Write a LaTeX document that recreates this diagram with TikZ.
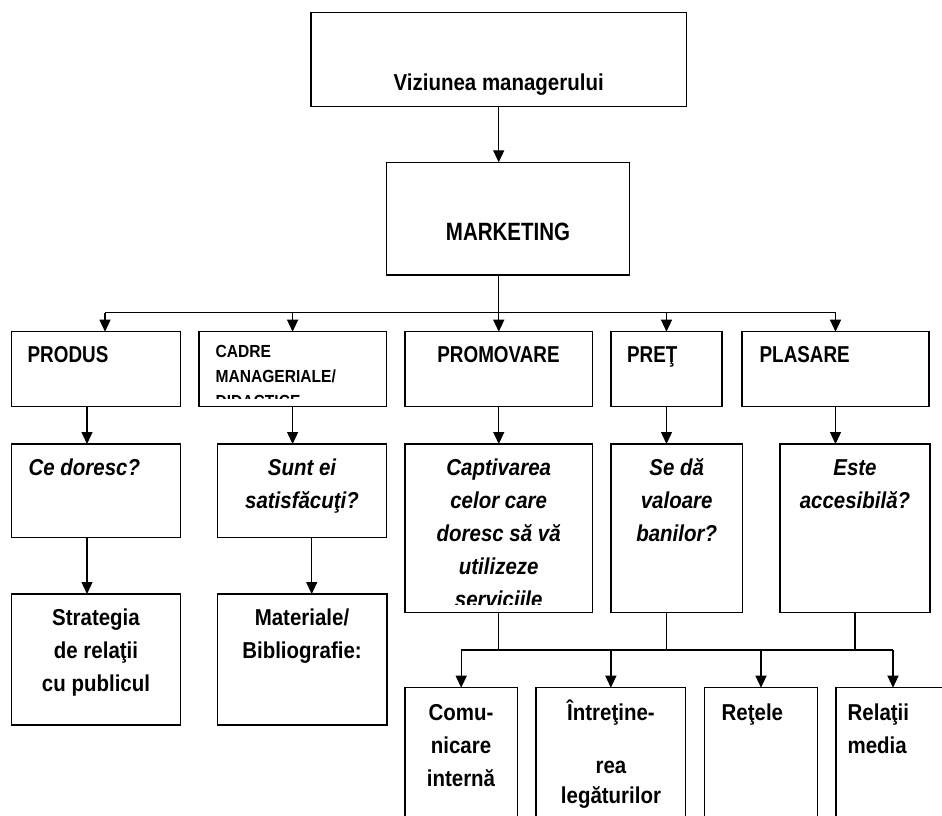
\documentclass[tikz,border=0pt]{standalone}
\usepackage{fontspec}
\setmainfont{Liberation Sans}[FakeStretch=0.89]
\newfontfamily\capsfont{Liberation Sans}[FakeStretch=0.82]
\usetikzlibrary{arrows.meta}

\begin{document}
\begin{tikzpicture}[x=1pt,y=-1pt,line width=1.3pt,>={Triangle[length=12pt,width=11pt]},
    box/.style={draw,inner sep=0pt,outer sep=0pt,anchor=north west},
    txt/.style={inner sep=0pt,align=center,font=\fontsize{23}{33}\selectfont\bfseries},
    cps/.style={txt,font=\capsfont\fontsize{23}{33}\selectfont\bfseries},
    qst/.style={txt,font=\fontsize{23}{33}\selectfont\bfseries\itshape}]
        \clip (0,0) rectangle (942,816);
        \node[box,minimum width=375.4pt,minimum height=93.6pt] (vis) at (311,12.7) {};
        \node[box,minimum width=243.3pt,minimum height=112.7pt] (mkt) at (386.4,162.3) {};
        \node[box,minimum width=168.6pt,minimum height=74.6pt] (pro) at (11.7,331.7) {};
        \node[box,minimum width=187.2pt,minimum height=74.6pt] (cad) at (199,331.7) {};
        \node[box,minimum width=187.5pt,minimum height=74.6pt] (prm) at (405,331.7) {};
        \node[box,minimum width=111pt,minimum height=74.6pt] (prt) at (611,331.7) {};
        \node[box,minimum width=187pt,minimum height=74.6pt] (pla) at (742,331.7) {};
        \node[box,minimum width=168.6pt,minimum height=93.7pt] (ced) at (11.7,444) {};
        \node[box,minimum width=169pt,minimum height=93.7pt] (sat) at (217.7,444) {};
        \node[box,minimum width=187.5pt,minimum height=168.5pt] (cap) at (405,444) {};
        \node[box,minimum width=131.5pt,minimum height=168.5pt] (val) at (611,444) {};
        \node[box,minimum width=150pt,minimum height=168.5pt] (acc) at (780,444) {};
        \node[box,minimum width=168.6pt,minimum height=131pt] (str) at (11.7,594) {};
        \node[box,minimum width=169.3pt,minimum height=131pt] (mat) at (217.7,594) {};
        \node[box,minimum width=112.4pt,minimum height=150pt] (com) at (405,687.7) {};
        \node[box,minimum width=149.7pt,minimum height=150pt] (int) at (536,687.7) {};
        \node[box,minimum width=113.4pt,minimum height=150pt] (ret) at (704.3,687.7) {};
        \node[box,minimum width=114pt,minimum height=150pt] (rel) at (836,687.7) {};

        % multi-line texts sit on the baseline of their last line
        \node[txt,anchor=base] (t-vis) at (498.7,90) {Viziunea managerului};
        \node[cps,anchor=base,font=\capsfont\fontsize{25}{33}\selectfont\bfseries] (t-mkt) at (508,240) {MARKETING};
        \node[cps,anchor=base west] (t-pro) at (27,362) {PRODUS};
        \begin{scope}
            \clip (cad.north west) rectangle ([yshift=8pt]cad.south east);
            \node[txt,anchor=base west,align=left,font=\fontsize{17.5}{25}\selectfont\bfseries] (t-cad) at (215,407) {CADRE\\MANAGERIALE/\\DIDACTICE};
        \end{scope}
        \node[cps,anchor=base] (t-prm) at (498.5,362) {PROMOVARE};
        \node[cps,anchor=base west] (t-prt) at (626.5,362) {PRE\char"0162};
        \node[cps,anchor=base west] (t-pla) at (759,362) {PLASARE};

        \node[qst,anchor=base west] (t-ced) at (28,475) {Ce doresc?};
        \node[qst,anchor=base] (t-sat) at (302,508) {Sunt ei\\satisf\u{a}cu\char"0163i?};
        \begin{scope}
            \clip (cap.north west) rectangle ([yshift=8.5pt]cap.south east);
            \node[qst,anchor=base] (t-cap) at (498.7,607) {Captivarea\\celor care\\doresc s\u{a} v\u{a}\\utilizeze\\serviciile};
        \end{scope}
        \node[qst,anchor=base] (t-val) at (676.7,541) {Se d\u{a}\\valoare\\banilor?};
        \node[qst,anchor=base] (t-acc) at (855,508) {Este\\accesibil\u{a}?};

        \node[txt,anchor=base] (t-str) at (96,691) {Strategia\\de rela\char"0163ii\\cu publicul};
        \node[txt,anchor=base] (t-mat) at (302,658) {Materiale/\\Bibliografie:};

        \node[txt,anchor=base] (t-com) at (461,786) {Comu-\\nicare\\intern\u{a}};
        \node[txt,anchor=base] (t-int1) at (611,720) {\^{I}ntre\char"0163ine-};
        \node[txt,anchor=base,font=\fontsize{23}{30}\selectfont\bfseries] (t-int2) at (611,803) {rea\\leg\u{a}turilor};
        \node[txt,anchor=base west] (t-ret) at (721,720) {Re\char"0163ele};
        \node[txt,anchor=base west,align=left] (t-rel) at (847,753) {Rela\char"0163ii\\media};

        \coordinate (bus1) at (0,312.7);
        \coordinate (bus2) at (0,650);
        \draw[->] (vis.south) -- (vis.south |- mkt.north);
        \draw (vis.south |- mkt.south) -- (vis.south |- bus1);
        \draw ([xshift=9pt]pro.north |- bus1) -- (pla.north |- bus1);
        \draw[->] ([xshift=9pt]pro.north |- bus1) -- ([xshift=9pt]pro.north);
        \foreach \b in {cad,prm,prt,pla}
            \draw[->] (\b.north |- bus1) -- (\b.north);

        \draw[->] ([xshift=-9pt]pro.south) -- ([xshift=-9pt]ced.north);
        \draw[->] (cad.south) -- (cad.south |- sat.north);
        \draw[->] (prm.south) -- (cap.north);
        \draw[->] (prt.south) -- (prt.south |- val.north);
        \draw[->] (pla.south) -- (pla.south |- acc.north);
        \draw[->] ([xshift=-9pt]ced.south) -- ([xshift=-9pt]str.north);
        \draw[->] ([xshift=9.5pt]sat.south) -- ([xshift=9.5pt]sat.south |- mat.north);

        \draw (cap.south) -- (cap.south |- bus2);
        \draw ([xshift=-10pt]val.south) -- ([xshift=-10pt]val.south |- bus2);
        \draw (acc.south) -- (acc.south |- bus2);
        \draw (com.north |- bus2) -- (rel.north |- bus2);
        \foreach \b in {com,int,ret,rel}
            \draw[->] (\b.north |- bus2) -- (\b.north);
      \end{tikzpicture}
\end{document}
